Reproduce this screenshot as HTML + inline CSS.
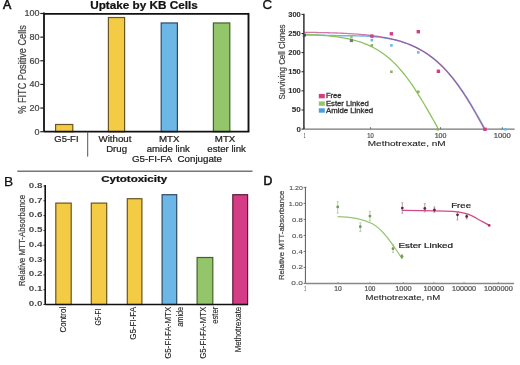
<!DOCTYPE html>
<html><head><meta charset="utf-8"><style>
html,body{margin:0;padding:0;background:#fff;}
body{width:520px;height:365px;overflow:hidden;}
svg{display:block;font-family:"Liberation Sans", sans-serif;filter:blur(0.35px);}
</style></head><body>
<svg width="520" height="365" viewBox="0 0 520 365">
<rect width="520" height="365" fill="#fff"/>
<text x="3" y="8.9" font-size="12.5" fill="#111" text-anchor="start" font-weight="normal" textLength="8.3" lengthAdjust="spacingAndGlyphs" stroke="#111" stroke-width="0.6">A</text>
<text x="90.2" y="9.2" font-size="10.5" fill="#111" text-anchor="start" font-weight="bold" textLength="107.5" lengthAdjust="spacingAndGlyphs"  stroke="#111" stroke-width="0.22">Uptake by KB Cells</text>
<rect x="55.6" y="124.49" width="17.2" height="7.21" fill="#F4CB45" stroke="#6a5520" stroke-width="1.2"/>
<rect x="108.4" y="17.52" width="16.2" height="114.18" fill="#F4CB45" stroke="#6a5520" stroke-width="1.2"/>
<rect x="161.2" y="22.96" width="16.2" height="108.74" fill="#6DB7E6" stroke="#2d4a66" stroke-width="1.2"/>
<rect x="213.4" y="22.96" width="16.4" height="108.74" fill="#93C66A" stroke="#45602c" stroke-width="1.2"/>
<line x1="44" y1="13.8" x2="248.5" y2="13.8" stroke="#111" stroke-width="1.8" />
<line x1="248.5" y1="12.9" x2="248.5" y2="131.7" stroke="#111" stroke-width="1.9" />
<line x1="44" y1="12.6" x2="44" y2="131.7" stroke="#111" stroke-width="1.8" />
<line x1="44" y1="131.7" x2="249.3" y2="131.7" stroke="#111" stroke-width="1.8" />
<line x1="40.3" y1="131.7" x2="44" y2="131.7" stroke="#222" stroke-width="1.2" />
<text x="39.6" y="134.65" font-size="9" fill="#444" text-anchor="end" font-weight="normal"  stroke="#444" stroke-width="0.22">0</text>
<line x1="40.3" y1="108.06" x2="44" y2="108.06" stroke="#222" stroke-width="1.2" />
<text x="39.6" y="111.01" font-size="9" fill="#444" text-anchor="end" font-weight="normal"  stroke="#444" stroke-width="0.22">20</text>
<line x1="40.3" y1="84.42" x2="44" y2="84.42" stroke="#222" stroke-width="1.2" />
<text x="39.6" y="87.37" font-size="9" fill="#444" text-anchor="end" font-weight="normal"  stroke="#444" stroke-width="0.22">40</text>
<line x1="40.3" y1="60.78" x2="44" y2="60.78" stroke="#222" stroke-width="1.2" />
<text x="39.6" y="63.73" font-size="9" fill="#444" text-anchor="end" font-weight="normal"  stroke="#444" stroke-width="0.22">60</text>
<line x1="40.3" y1="37.14" x2="44" y2="37.14" stroke="#222" stroke-width="1.2" />
<text x="39.6" y="40.09" font-size="9" fill="#444" text-anchor="end" font-weight="normal"  stroke="#444" stroke-width="0.22">80</text>
<line x1="40.3" y1="13.5" x2="44" y2="13.5" stroke="#222" stroke-width="1.2" />
<text x="39.6" y="16.45" font-size="9" fill="#444" text-anchor="end" font-weight="normal"  stroke="#444" stroke-width="0.22">100</text>
<text x="26.2" y="69.45" font-size="10.8" fill="#444" text-anchor="middle" font-weight="normal" textLength="88.5" lengthAdjust="spacingAndGlyphs" transform="rotate(-90 26.2 69.45)"  stroke="#444" stroke-width="0.22">% FITC Positive Cells</text>
<text x="66.4" y="141.5" font-size="9" fill="#222" text-anchor="middle" font-weight="normal" textLength="24.3" lengthAdjust="spacingAndGlyphs"  stroke="#222" stroke-width="0.22">G5-FI</text>
<text x="115" y="141.8" font-size="9" fill="#222" text-anchor="middle" font-weight="normal" textLength="32.9" lengthAdjust="spacingAndGlyphs"  stroke="#222" stroke-width="0.22">Without</text>
<text x="116.6" y="151.6" font-size="9" fill="#222" text-anchor="middle" font-weight="normal" textLength="20.9" lengthAdjust="spacingAndGlyphs"  stroke="#222" stroke-width="0.22">Drug</text>
<text x="169.2" y="141.7" font-size="9" fill="#222" text-anchor="middle" font-weight="normal" textLength="20.6" lengthAdjust="spacingAndGlyphs"  stroke="#222" stroke-width="0.22">MTX</text>
<text x="168.3" y="151.7" font-size="9" fill="#222" text-anchor="middle" font-weight="normal" textLength="43" lengthAdjust="spacingAndGlyphs"  stroke="#222" stroke-width="0.22">amide link</text>
<text x="225.1" y="141.7" font-size="9" fill="#222" text-anchor="middle" font-weight="normal" textLength="20.5" lengthAdjust="spacingAndGlyphs"  stroke="#222" stroke-width="0.22">MTX</text>
<text x="226.6" y="151.7" font-size="9" fill="#222" text-anchor="middle" font-weight="normal" textLength="38.7" lengthAdjust="spacingAndGlyphs"  stroke="#222" stroke-width="0.22">ester link</text>
<text x="177" y="162" font-size="9" fill="#222" text-anchor="middle" font-weight="normal" textLength="90" lengthAdjust="spacingAndGlyphs"  stroke="#222" stroke-width="0.22">G5-FI-FA&#160;&#160;Conjugate</text>
<line x1="87.7" y1="131.7" x2="87.7" y2="156.6" stroke="#555" stroke-width="1" />
<line x1="17.3" y1="171.25" x2="252.5" y2="171.25" stroke="#777" stroke-width="1.3" />
<text x="4.0" y="186" font-size="12.5" fill="#111" text-anchor="start" font-weight="normal" textLength="9.2" lengthAdjust="spacingAndGlyphs" stroke="#111" stroke-width="0.25">B</text>
<text x="101.2" y="181.6" font-size="9.3" fill="#111" text-anchor="start" font-weight="bold" textLength="66" lengthAdjust="spacingAndGlyphs"  stroke="#111" stroke-width="0.22">Cytotoxicity</text>
<rect x="55.8" y="203.1" width="15.4" height="101.4" fill="#F4CB45" stroke="#6a5520" stroke-width="1.2"/>
<rect x="91.3" y="203.1" width="15.4" height="101.4" fill="#F4CB45" stroke="#6a5520" stroke-width="1.2"/>
<rect x="127.3" y="198.7" width="14.6" height="105.8" fill="#F4CB45" stroke="#6a5520" stroke-width="1.2"/>
<rect x="162.1" y="194.7" width="14.6" height="109.8" fill="#6DB7E6" stroke="#2d4a66" stroke-width="1.2"/>
<rect x="197.1" y="257.5" width="15.7" height="47.0" fill="#93C66A" stroke="#45602c" stroke-width="1.2"/>
<rect x="232.8" y="194.7" width="14.8" height="109.8" fill="#D43C86" stroke="#5e1a3a" stroke-width="1.2"/>
<line x1="45.2" y1="185" x2="45.2" y2="304.5" stroke="#111" stroke-width="1.6" />
<line x1="45.2" y1="304.5" x2="248" y2="304.5" stroke="#111" stroke-width="1.6" />
<line x1="43.5" y1="304.5" x2="45.2" y2="304.5" stroke="#222" stroke-width="1" />
<text x="42.5" y="305.7" font-size="6.6" fill="#444" text-anchor="end" font-weight="bold" textLength="13.7" lengthAdjust="spacingAndGlyphs" >0.0</text>
<line x1="43.5" y1="289.69" x2="45.2" y2="289.69" stroke="#222" stroke-width="1" />
<text x="42.5" y="290.97" font-size="6.6" fill="#444" text-anchor="end" font-weight="bold" textLength="13.7" lengthAdjust="spacingAndGlyphs" >0.1</text>
<line x1="43.5" y1="274.88" x2="45.2" y2="274.88" stroke="#222" stroke-width="1" />
<text x="42.5" y="276.25" font-size="6.6" fill="#444" text-anchor="end" font-weight="bold" textLength="13.7" lengthAdjust="spacingAndGlyphs" >0.2</text>
<line x1="43.5" y1="260.06" x2="45.2" y2="260.06" stroke="#222" stroke-width="1" />
<text x="42.5" y="261.52" font-size="6.6" fill="#444" text-anchor="end" font-weight="bold" textLength="13.7" lengthAdjust="spacingAndGlyphs" >0.3</text>
<line x1="43.5" y1="245.25" x2="45.2" y2="245.25" stroke="#222" stroke-width="1" />
<text x="42.5" y="246.8" font-size="6.6" fill="#444" text-anchor="end" font-weight="bold" textLength="13.7" lengthAdjust="spacingAndGlyphs" >0.4</text>
<line x1="43.5" y1="230.44" x2="45.2" y2="230.44" stroke="#222" stroke-width="1" />
<text x="42.5" y="232.07" font-size="6.6" fill="#444" text-anchor="end" font-weight="bold" textLength="13.7" lengthAdjust="spacingAndGlyphs" >0.5</text>
<line x1="43.5" y1="215.62" x2="45.2" y2="215.62" stroke="#222" stroke-width="1" />
<text x="42.5" y="217.35" font-size="6.6" fill="#444" text-anchor="end" font-weight="bold" textLength="13.7" lengthAdjust="spacingAndGlyphs" >0.6</text>
<line x1="43.5" y1="200.81" x2="45.2" y2="200.81" stroke="#222" stroke-width="1" />
<text x="42.5" y="202.62" font-size="6.6" fill="#444" text-anchor="end" font-weight="bold" textLength="13.7" lengthAdjust="spacingAndGlyphs" >0.7</text>
<line x1="43.5" y1="186.0" x2="45.2" y2="186.0" stroke="#222" stroke-width="1" />
<text x="42.5" y="187.9" font-size="6.6" fill="#444" text-anchor="end" font-weight="bold" textLength="13.7" lengthAdjust="spacingAndGlyphs" >0.8</text>
<text x="25.3" y="240.6" font-size="9.6" fill="#444" text-anchor="middle" font-weight="normal" textLength="91.5" lengthAdjust="spacingAndGlyphs" transform="rotate(-90 25.3 240.6)"  stroke="#444" stroke-width="0.22">Relative MTT-Absorbance</text>
<text x="66.5" y="306.8" font-size="8.5" fill="#222" text-anchor="end" font-weight="normal" textLength="25.7" lengthAdjust="spacingAndGlyphs" transform="rotate(-90 66.5 306.8)"  stroke="#222" stroke-width="0.1">Control</text>
<text x="101" y="308.5" font-size="8.5" fill="#222" text-anchor="end" font-weight="normal" textLength="17.1" lengthAdjust="spacingAndGlyphs" transform="rotate(-90 101 308.5)"  stroke="#222" stroke-width="0.1">G5-FI</text>
<text x="136.4" y="306.8" font-size="8.5" fill="#222" text-anchor="end" font-weight="normal" textLength="33" lengthAdjust="spacingAndGlyphs" transform="rotate(-90 136.4 306.8)"  stroke="#222" stroke-width="0.1">G5-FI-FA</text>
<text x="171" y="306.8" font-size="8.5" fill="#222" text-anchor="end" font-weight="normal" textLength="52" lengthAdjust="spacingAndGlyphs" transform="rotate(-90 171 306.8)"  stroke="#222" stroke-width="0.1">G5-FI-FA-MTX</text>
<text x="183" y="306.8" font-size="8.5" fill="#222" text-anchor="end" font-weight="normal" textLength="20" lengthAdjust="spacingAndGlyphs" transform="rotate(-90 183 306.8)"  stroke="#222" stroke-width="0.1">amide</text>
<text x="206.5" y="306.8" font-size="8.5" fill="#222" text-anchor="end" font-weight="normal" textLength="52" lengthAdjust="spacingAndGlyphs" transform="rotate(-90 206.5 306.8)"  stroke="#222" stroke-width="0.1">G5-FI-FA-MTX</text>
<text x="218" y="306.8" font-size="8.5" fill="#222" text-anchor="end" font-weight="normal" textLength="17" lengthAdjust="spacingAndGlyphs" transform="rotate(-90 218 306.8)"  stroke="#222" stroke-width="0.1">ester</text>
<text x="241.5" y="306.8" font-size="8.5" fill="#222" text-anchor="end" font-weight="normal" textLength="45.5" lengthAdjust="spacingAndGlyphs" transform="rotate(-90 241.5 306.8)"  stroke="#222" stroke-width="0.1">Methotrexate</text>
<text x="262.6" y="8.9" font-size="13" fill="#111" text-anchor="start" font-weight="normal" textLength="9.6" lengthAdjust="spacingAndGlyphs" stroke="#111" stroke-width="0.35">C</text>
<line x1="303.9" y1="13.7" x2="303.9" y2="129.1" stroke="#222" stroke-width="1.4" />
<line x1="303.9" y1="129.1" x2="514.6" y2="129.1" stroke="#777" stroke-width="1.1" />
<line x1="301.5" y1="129.1" x2="303.9" y2="129.1" stroke="#222" stroke-width="1" />
<text x="300.8" y="131.5" font-size="6.8" fill="#333" text-anchor="end" font-weight="bold" textLength="4.4" lengthAdjust="spacingAndGlyphs"  stroke="#333" stroke-width="0.1">0</text>
<line x1="301.5" y1="109.98" x2="303.9" y2="109.98" stroke="#222" stroke-width="1" />
<text x="300.8" y="112.38" font-size="6.8" fill="#333" text-anchor="end" font-weight="bold" textLength="9" lengthAdjust="spacingAndGlyphs"  stroke="#333" stroke-width="0.1">50</text>
<line x1="301.5" y1="90.87" x2="303.9" y2="90.87" stroke="#222" stroke-width="1" />
<text x="300.8" y="93.27" font-size="6.8" fill="#333" text-anchor="end" font-weight="bold" textLength="12.6" lengthAdjust="spacingAndGlyphs"  stroke="#333" stroke-width="0.1">100</text>
<line x1="301.5" y1="71.75" x2="303.9" y2="71.75" stroke="#222" stroke-width="1" />
<text x="300.8" y="74.15" font-size="6.8" fill="#333" text-anchor="end" font-weight="bold" textLength="12.6" lengthAdjust="spacingAndGlyphs"  stroke="#333" stroke-width="0.1">150</text>
<line x1="301.5" y1="52.63" x2="303.9" y2="52.63" stroke="#222" stroke-width="1" />
<text x="300.8" y="55.03" font-size="6.8" fill="#333" text-anchor="end" font-weight="bold" textLength="12.6" lengthAdjust="spacingAndGlyphs"  stroke="#333" stroke-width="0.1">200</text>
<line x1="301.5" y1="33.52" x2="303.9" y2="33.52" stroke="#222" stroke-width="1" />
<text x="300.8" y="35.92" font-size="6.8" fill="#333" text-anchor="end" font-weight="bold" textLength="12.6" lengthAdjust="spacingAndGlyphs"  stroke="#333" stroke-width="0.1">250</text>
<line x1="301.5" y1="14.4" x2="303.9" y2="14.4" stroke="#222" stroke-width="1" />
<text x="300.8" y="16.8" font-size="6.8" fill="#333" text-anchor="end" font-weight="bold" textLength="12.6" lengthAdjust="spacingAndGlyphs"  stroke="#333" stroke-width="0.1">300</text>
<line x1="304.5" y1="127.1" x2="304.5" y2="129.1" stroke="#555" stroke-width="0.8" />
<text x="304.5" y="138" font-size="6.3" fill="#555" text-anchor="middle" font-weight="normal" textLength="1.6" lengthAdjust="spacingAndGlyphs"  stroke="#555" stroke-width="0.22">1</text>
<line x1="370.6" y1="127.1" x2="370.6" y2="129.1" stroke="#555" stroke-width="0.8" />
<text x="370.6" y="138" font-size="6.3" fill="#555" text-anchor="middle" font-weight="normal" textLength="6.5" lengthAdjust="spacingAndGlyphs"  stroke="#555" stroke-width="0.22">10</text>
<line x1="440.6" y1="127.1" x2="440.6" y2="129.1" stroke="#555" stroke-width="0.8" />
<text x="440.6" y="138" font-size="6.3" fill="#555" text-anchor="middle" font-weight="normal" textLength="11.8" lengthAdjust="spacingAndGlyphs"  stroke="#555" stroke-width="0.22">100</text>
<line x1="502.3" y1="127.1" x2="502.3" y2="129.1" stroke="#555" stroke-width="0.8" />
<text x="502.3" y="138" font-size="6.3" fill="#555" text-anchor="middle" font-weight="normal" textLength="17" lengthAdjust="spacingAndGlyphs"  stroke="#555" stroke-width="0.22">1000</text>
<text x="406.7" y="146.1" font-size="7.6" fill="#222" text-anchor="middle" font-weight="normal" textLength="77.8" lengthAdjust="spacingAndGlyphs"  stroke="#222" stroke-width="0.1">Methotrexate, nM</text>
<text x="284.8" y="62" font-size="9" fill="#444" text-anchor="middle" font-weight="normal" textLength="75" lengthAdjust="spacingAndGlyphs" transform="rotate(-90 284.8 62)"  stroke="#444" stroke-width="0.22">Surviving Cell Clones</text>
<rect x="318.8" y="93.9" width="6" height="4.4" fill="#D43C86" stroke="none" stroke-width="1"/>
<text x="326" y="98.1" font-size="6.5" fill="#333" text-anchor="start" font-weight="normal" textLength="15.5" lengthAdjust="spacingAndGlyphs" stroke="#333" stroke-width="0.3">Free</text>
<rect x="318.8" y="101.4" width="6" height="4.4" fill="#93C66A" stroke="none" stroke-width="1"/>
<text x="326" y="105.6" font-size="6.5" fill="#333" text-anchor="start" font-weight="normal" textLength="42.7" lengthAdjust="spacingAndGlyphs" stroke="#333" stroke-width="0.3">Ester Linked</text>
<rect x="318.8" y="108.3" width="6" height="4.4" fill="#4a9ede" stroke="none" stroke-width="1"/>
<text x="326" y="112.5" font-size="6.5" fill="#333" text-anchor="start" font-weight="normal" textLength="47.1" lengthAdjust="spacingAndGlyphs" stroke="#333" stroke-width="0.3">Amide Linked</text>
<path d="M304.30,35.02 L306.30,35.04 L308.30,35.06 L310.30,35.08 L312.31,35.11 L314.31,35.13 L316.31,35.16 L318.31,35.19 L320.31,35.23 L322.32,35.27 L324.32,35.31 L326.32,35.35 L328.33,35.40 L330.33,35.45 L332.33,35.51 L334.34,35.57 L336.34,35.63 L338.34,35.70 L340.35,35.78 L342.35,35.76 L344.36,35.75 L346.36,35.74 L348.37,35.74 L350.37,35.75 L352.38,35.77 L354.38,35.79 L356.39,35.83 L358.39,35.87 L360.40,35.93 L362.40,35.99 L364.41,36.07 L366.42,36.16 L368.42,36.26 L370.43,36.38 L372.44,36.54 L374.44,36.73 L376.45,36.93 L378.46,37.15 L380.47,37.39 L382.47,37.66 L384.48,37.94 L386.49,38.25 L388.50,38.59 L390.51,38.95 L392.52,39.34 L394.53,39.76 L396.53,40.28 L398.54,40.84 L400.55,41.42 L402.56,42.05 L404.57,42.72 L406.58,43.43 L408.59,44.19 L410.60,45.00 L412.61,45.86 L414.62,46.77 L416.63,47.74 L418.64,48.76 L420.66,49.85 L422.67,51.01 L424.68,52.23 L426.69,53.52 L428.70,54.89 L430.71,56.33 L432.73,57.85 L434.74,59.46 L436.75,61.15 L438.76,62.93 L440.78,64.80 L442.79,66.76 L444.80,68.82 L446.81,70.98 L448.83,73.23 L450.84,75.58 L452.86,78.03 L454.87,80.58 L456.88,83.23 L458.90,85.98 L460.91,88.82 L462.93,91.77 L464.94,94.80 L466.96,97.93 L468.97,101.14 L470.99,104.44 L473.00,107.81 L475.02,111.25 L477.03,114.76 L479.05,118.33 L481.07,121.95 L483.08,125.61 L485.10,129.31" stroke="#6cb8e8" stroke-width="1.4" fill="none"/>
<g opacity="0.6">
<path d="M304.30,32.32 L306.30,32.34 L308.30,32.37 L310.30,32.40 L312.30,32.43 L314.31,32.46 L316.31,32.50 L318.31,32.53 L320.31,32.57 L322.31,32.62 L324.31,32.66 L326.31,32.71 L328.31,32.77 L330.31,32.83 L332.32,32.89 L334.32,32.95 L336.32,33.02 L338.32,33.10 L340.32,33.18 L342.32,33.26 L344.32,33.36 L346.32,33.46 L348.32,33.56 L350.33,33.67 L352.33,33.80 L354.33,33.93 L356.33,34.06 L358.33,34.21 L360.33,34.37 L362.33,34.54 L364.33,34.72 L366.33,34.92 L368.34,35.13 L370.34,35.35 L372.34,35.59 L374.34,35.84 L376.34,36.11 L378.34,36.40 L380.34,36.71 L382.34,37.05 L384.34,37.40 L386.35,37.78 L388.35,38.18 L390.35,38.61 L392.35,39.07 L394.35,39.56 L396.35,40.09 L398.35,40.64 L400.35,41.24 L402.35,41.87 L404.36,42.54 L406.36,43.26 L408.36,44.02 L410.36,44.84 L412.36,45.70 L414.36,46.61 L416.36,47.58 L418.36,48.62 L420.36,49.71 L422.37,50.87 L424.37,52.09 L426.37,53.39 L428.37,54.76 L430.37,56.21 L432.37,57.74 L434.37,59.35 L436.37,61.04 L438.37,62.83 L440.38,64.70 L442.38,66.67 L444.38,68.73 L446.38,70.89 L448.38,73.15 L450.38,75.50 L452.38,77.96 L454.38,80.51 L456.38,83.17 L458.39,85.92 L460.39,88.77 L462.39,91.72 L464.39,94.76 L466.39,97.89 L468.39,101.11 L470.39,104.40 L472.39,107.78 L474.39,111.23 L476.40,114.74 L478.40,118.31 L480.40,121.94 L482.40,125.61 L484.40,129.31" stroke="#b0206f" stroke-width="1.3" fill="none"/>
</g>
<path d="M304.30,34.29 L306.53,34.38 L308.75,34.48 L310.98,34.59 L313.20,34.71 L315.43,34.84 L317.65,34.98 L319.88,35.13 L322.10,35.30 L324.32,35.48 L326.55,35.68 L328.78,35.89 L331.00,36.13 L333.23,36.39 L335.45,36.67 L337.68,36.97 L339.90,37.30 L342.12,37.66 L344.35,38.06 L346.57,38.49 L348.80,38.95 L351.03,39.46 L353.25,40.01 L355.48,40.60 L357.70,41.25 L359.93,41.95 L362.15,42.71 L364.38,43.53 L366.60,44.42 L368.83,45.38 L371.05,46.42 L373.27,47.54 L375.50,48.74 L377.73,50.04 L379.95,51.44 L382.18,52.93 L384.40,54.54 L386.62,56.25 L388.85,58.08 L391.08,60.04 L393.30,62.11 L395.52,64.32 L397.75,66.66 L399.98,69.13 L402.20,71.73 L404.43,74.47 L406.65,77.33 L408.88,80.33 L411.10,83.46 L413.33,86.71 L415.55,90.08 L417.77,93.55 L420.00,97.12 L422.23,100.78 L424.45,104.52 L426.68,108.33 L428.90,112.18 L431.12,116.07 L433.35,119.98 L435.58,123.90 L437.80,127.81" stroke="#8cc35c" stroke-width="1.3" fill="none"/>
<rect x="370.2" y="34.4" width="3.4" height="3.4" fill="#D43C86" stroke="none" stroke-width="1"/>
<rect x="389.7" y="32.1" width="3.4" height="3.4" fill="#D43C86" stroke="none" stroke-width="1"/>
<rect x="416.6" y="30.0" width="3.4" height="3.4" fill="#D43C86" stroke="none" stroke-width="1"/>
<rect x="436.7" y="69.6" width="3.4" height="3.4" fill="#D43C86" stroke="none" stroke-width="1"/>
<rect x="483.3" y="127.6" width="3.4" height="3.4" fill="#D43C86" stroke="none" stroke-width="1"/>
<rect x="370.6" y="38.8" width="2.6" height="2.6" fill="#6DB7E6" stroke="none" stroke-width="1"/>
<rect x="390.1" y="44.1" width="2.6" height="2.6" fill="#6DB7E6" stroke="none" stroke-width="1"/>
<rect x="417.0" y="51.1" width="2.6" height="2.6" fill="#6DB7E6" stroke="none" stroke-width="1"/>
<rect x="504.2" y="128.0" width="2.6" height="2.6" fill="#6DB7E6" stroke="none" stroke-width="1"/>
<rect x="370.6" y="44.1" width="2.6" height="2.6" fill="#8fae6a" stroke="none" stroke-width="1"/>
<rect x="390.1" y="70.5" width="2.6" height="2.6" fill="#8fae6a" stroke="none" stroke-width="1"/>
<rect x="417.0" y="90.5" width="2.6" height="2.6" fill="#8fae6a" stroke="none" stroke-width="1"/>
<rect x="436.5" y="128.0" width="2.6" height="2.6" fill="#8fae6a" stroke="none" stroke-width="1"/>
<rect x="349.8" y="38.9" width="3.2" height="3.2" fill="#777" stroke="none" stroke-width="1"/>
<rect x="350.2" y="35.8" width="2.4" height="2.4" fill="#9ab87a" stroke="none" stroke-width="1"/>
<rect x="302.8" y="33.7" width="3" height="3" fill="#446" stroke="none" stroke-width="1"/>
<text x="263.5" y="184.7" font-size="12.5" fill="#111" text-anchor="start" font-weight="normal" textLength="8.8" lengthAdjust="spacingAndGlyphs" stroke="#111" stroke-width="0.6">D</text>
<line x1="305.4" y1="187" x2="305.4" y2="283.5" stroke="#555" stroke-width="1.0" />
<line x1="305.4" y1="187.2" x2="306.6" y2="187.2" stroke="#666" stroke-width="0.7" />
<line x1="305.4" y1="283.5" x2="514" y2="283.5" stroke="#888" stroke-width="1.3" />
<line x1="303.6" y1="283.5" x2="305.4" y2="283.5" stroke="#666" stroke-width="0.9" />
<text x="302.8" y="285.1" font-size="5.9" fill="#555" text-anchor="end" font-weight="normal" textLength="11.5" lengthAdjust="spacingAndGlyphs"  stroke="#555" stroke-width="0.12">0.0</text>
<line x1="303.6" y1="267.48" x2="305.4" y2="267.48" stroke="#666" stroke-width="0.9" />
<text x="302.8" y="269.3" font-size="5.9" fill="#555" text-anchor="end" font-weight="normal" textLength="11" lengthAdjust="spacingAndGlyphs"  stroke="#555" stroke-width="0.12">0.2</text>
<line x1="303.6" y1="251.47" x2="305.4" y2="251.47" stroke="#666" stroke-width="0.9" />
<text x="302.8" y="253.5" font-size="5.9" fill="#555" text-anchor="end" font-weight="normal" textLength="11" lengthAdjust="spacingAndGlyphs"  stroke="#555" stroke-width="0.12">0.4</text>
<line x1="303.6" y1="235.45" x2="305.4" y2="235.45" stroke="#666" stroke-width="0.9" />
<text x="302.8" y="237.7" font-size="5.9" fill="#555" text-anchor="end" font-weight="normal" textLength="10.7" lengthAdjust="spacingAndGlyphs"  stroke="#555" stroke-width="0.12">0.6</text>
<line x1="303.6" y1="219.43" x2="305.4" y2="219.43" stroke="#666" stroke-width="0.9" />
<text x="302.8" y="221.9" font-size="5.9" fill="#555" text-anchor="end" font-weight="normal" textLength="10.7" lengthAdjust="spacingAndGlyphs"  stroke="#555" stroke-width="0.12">0.8</text>
<line x1="303.6" y1="203.42" x2="305.4" y2="203.42" stroke="#666" stroke-width="0.9" />
<text x="302.8" y="206.1" font-size="5.9" fill="#555" text-anchor="end" font-weight="normal" textLength="14" lengthAdjust="spacingAndGlyphs"  stroke="#555" stroke-width="0.12">1.00</text>
<line x1="303.6" y1="187.4" x2="305.4" y2="187.4" stroke="#666" stroke-width="0.9" />
<text x="302.8" y="190.3" font-size="5.9" fill="#555" text-anchor="end" font-weight="normal" textLength="13.6" lengthAdjust="spacingAndGlyphs"  stroke="#555" stroke-width="0.12">1.20</text>
<line x1="305.2" y1="281.9" x2="305.2" y2="283.5" stroke="#888" stroke-width="0.8" />
<text x="305.2" y="290.6" font-size="6.3" fill="#555" text-anchor="middle" font-weight="normal" textLength="1.5" lengthAdjust="spacingAndGlyphs"  stroke="#555" stroke-width="0.22">1</text>
<line x1="338" y1="281.9" x2="338" y2="283.5" stroke="#888" stroke-width="0.8" />
<text x="338" y="290.6" font-size="6.3" fill="#555" text-anchor="middle" font-weight="normal" textLength="7.5" lengthAdjust="spacingAndGlyphs"  stroke="#555" stroke-width="0.22">10</text>
<line x1="370" y1="281.9" x2="370" y2="283.5" stroke="#888" stroke-width="0.8" />
<text x="370" y="290.6" font-size="6.3" fill="#555" text-anchor="middle" font-weight="normal" textLength="10.8" lengthAdjust="spacingAndGlyphs"  stroke="#555" stroke-width="0.22">100</text>
<line x1="403.4" y1="281.9" x2="403.4" y2="283.5" stroke="#888" stroke-width="0.8" />
<text x="403.4" y="290.6" font-size="6.3" fill="#555" text-anchor="middle" font-weight="normal" textLength="16.5" lengthAdjust="spacingAndGlyphs"  stroke="#555" stroke-width="0.22">1000</text>
<line x1="433.8" y1="281.9" x2="433.8" y2="283.5" stroke="#888" stroke-width="0.8" />
<text x="433.8" y="290.6" font-size="6.3" fill="#555" text-anchor="middle" font-weight="normal" textLength="20.7" lengthAdjust="spacingAndGlyphs"  stroke="#555" stroke-width="0.22">10000</text>
<line x1="464" y1="281.9" x2="464" y2="283.5" stroke="#888" stroke-width="0.8" />
<text x="464" y="290.6" font-size="6.3" fill="#555" text-anchor="middle" font-weight="normal" textLength="24.1" lengthAdjust="spacingAndGlyphs"  stroke="#555" stroke-width="0.22">100000</text>
<line x1="498.4" y1="281.9" x2="498.4" y2="283.5" stroke="#888" stroke-width="0.8" />
<text x="498.4" y="290.6" font-size="6.3" fill="#555" text-anchor="middle" font-weight="normal" textLength="28.8" lengthAdjust="spacingAndGlyphs"  stroke="#555" stroke-width="0.22">1000000</text>
<text x="402.8" y="300.3" font-size="7.6" fill="#222" text-anchor="middle" font-weight="normal" textLength="74.8" lengthAdjust="spacingAndGlyphs"  stroke="#222" stroke-width="0.1">Methotrexate, nM</text>
<text x="284.4" y="235.4" font-size="7.6" fill="#444" text-anchor="middle" font-weight="normal" textLength="89.4" lengthAdjust="spacingAndGlyphs" transform="rotate(-90 284.4 235.4)"  stroke="#444" stroke-width="0.22">Relative MTT-absorbance</text>
<path d="M401.7,210.4 C420,210.6 440,210.8 452.7,211.3 C460,212 465,213 468,214.2 C472,215.8 475,217.2 477.7,219 C482,221.5 486,223.5 489.2,225.4" stroke="#d04a8a" stroke-width="1.3" fill="none"/>
<path d="M337.7,216.7 C350,216.8 362,219 372,223.5 C381,228 388,238 393,245 C396,249.5 399,254 402,258.3" stroke="#98c474" stroke-width="1.3" fill="none"/>
<line x1="337.7" y1="201.7" x2="337.7" y2="213.2" stroke="#9ab880" stroke-width="0.7" />
<line x1="336.7" y1="201.7" x2="338.7" y2="201.7" stroke="#9ab880" stroke-width="0.6" />
<line x1="336.7" y1="213.2" x2="338.7" y2="213.2" stroke="#9ab880" stroke-width="0.6" />
<circle cx="337.7" cy="206.9" r="1.4" fill="#6f9a50"/>
<line x1="360.3" y1="222.8" x2="360.3" y2="231.5" stroke="#9ab880" stroke-width="0.7" />
<line x1="359.3" y1="222.8" x2="361.3" y2="222.8" stroke="#9ab880" stroke-width="0.6" />
<line x1="359.3" y1="231.5" x2="361.3" y2="231.5" stroke="#9ab880" stroke-width="0.6" />
<circle cx="360.3" cy="226.7" r="1.4" fill="#6f9a50"/>
<line x1="369.9" y1="211.3" x2="369.9" y2="220.9" stroke="#9ab880" stroke-width="0.7" />
<line x1="368.9" y1="211.3" x2="370.9" y2="211.3" stroke="#9ab880" stroke-width="0.6" />
<line x1="368.9" y1="220.9" x2="370.9" y2="220.9" stroke="#9ab880" stroke-width="0.6" />
<circle cx="369.9" cy="216.1" r="1.4" fill="#6f9a50"/>
<line x1="393" y1="244.9" x2="393" y2="252.6" stroke="#9ab880" stroke-width="0.7" />
<line x1="392" y1="244.9" x2="394" y2="244.9" stroke="#9ab880" stroke-width="0.6" />
<line x1="392" y1="252.6" x2="394" y2="252.6" stroke="#9ab880" stroke-width="0.6" />
<circle cx="393" cy="248.7" r="1.4" fill="#6f9a50"/>
<line x1="402" y1="254.5" x2="402" y2="258.5" stroke="#9ab880" stroke-width="0.7" />
<line x1="401" y1="254.5" x2="403" y2="254.5" stroke="#9ab880" stroke-width="0.6" />
<line x1="401" y1="258.5" x2="403" y2="258.5" stroke="#9ab880" stroke-width="0.6" />
<circle cx="402" cy="256.5" r="1.4" fill="#6f9a50"/>
<line x1="402.3" y1="202.7" x2="402.3" y2="213.3" stroke="#a07090" stroke-width="0.7" />
<line x1="401.3" y1="202.7" x2="403.3" y2="202.7" stroke="#a07090" stroke-width="0.6" />
<line x1="401.3" y1="213.3" x2="403.3" y2="213.3" stroke="#a07090" stroke-width="0.6" />
<circle cx="402.3" cy="208.1" r="1.4" fill="#702045"/>
<line x1="424.8" y1="203.7" x2="424.8" y2="211.9" stroke="#a07090" stroke-width="0.7" />
<line x1="423.8" y1="203.7" x2="425.8" y2="203.7" stroke="#a07090" stroke-width="0.6" />
<line x1="423.8" y1="211.9" x2="425.8" y2="211.9" stroke="#a07090" stroke-width="0.6" />
<circle cx="424.8" cy="208.5" r="1.4" fill="#702045"/>
<line x1="434.4" y1="206.9" x2="434.4" y2="212.3" stroke="#a07090" stroke-width="0.7" />
<line x1="433.4" y1="206.9" x2="435.4" y2="206.9" stroke="#a07090" stroke-width="0.6" />
<line x1="433.4" y1="212.3" x2="435.4" y2="212.3" stroke="#a07090" stroke-width="0.6" />
<circle cx="434.4" cy="210" r="1.4" fill="#702045"/>
<line x1="457.5" y1="212.3" x2="457.5" y2="220" stroke="#a07090" stroke-width="0.7" />
<line x1="456.5" y1="212.3" x2="458.5" y2="212.3" stroke="#a07090" stroke-width="0.6" />
<line x1="456.5" y1="220" x2="458.5" y2="220" stroke="#a07090" stroke-width="0.6" />
<circle cx="457.5" cy="214.8" r="1.4" fill="#702045"/>
<line x1="466.7" y1="214.2" x2="466.7" y2="219" stroke="#a07090" stroke-width="0.7" />
<line x1="465.7" y1="214.2" x2="467.7" y2="214.2" stroke="#a07090" stroke-width="0.6" />
<line x1="465.7" y1="219" x2="467.7" y2="219" stroke="#a07090" stroke-width="0.6" />
<circle cx="466.7" cy="216.5" r="1.4" fill="#702045"/>
<circle cx="489.2" cy="225.4" r="1.3" fill="#b02a66"/>
<text x="451.2" y="208.2" font-size="7.5" fill="#222" text-anchor="start" font-weight="normal" textLength="19.8" lengthAdjust="spacingAndGlyphs" stroke="#222" stroke-width="0.2">Free</text>
<text x="398.5" y="248.2" font-size="7.5" fill="#222" text-anchor="start" font-weight="normal" textLength="54.5" lengthAdjust="spacingAndGlyphs"  stroke="#222" stroke-width="0.22">Ester Linked</text>
</svg>
</body></html>
